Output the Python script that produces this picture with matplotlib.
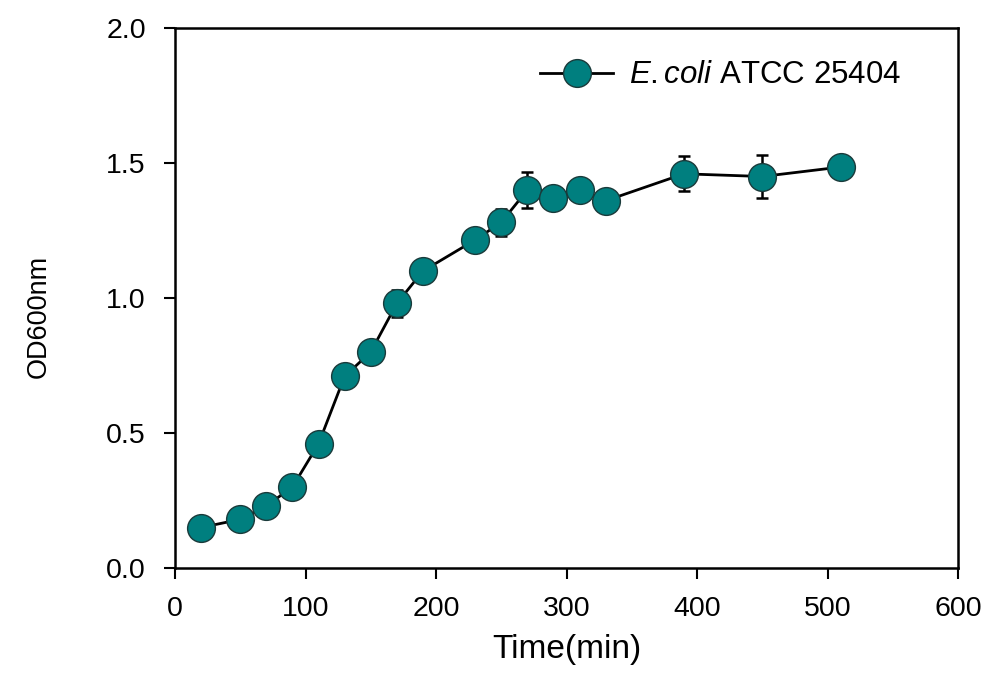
import matplotlib.pyplot as plt

time_min = [20, 50, 70, 90, 110, 130, 150, 170, 190, 230, 250, 270, 290, 310, 330, 390, 450, 510]
od600 = [0.15, 0.18, 0.23, 0.30, 0.46, 0.71, 0.80, 0.98, 1.10, 1.215, 1.28, 1.40, 1.37, 1.40, 1.36, 1.46, 1.45, 1.485]
od_err = [0.01, 0.01, 0.01, 0.01, 0.02, 0.04, 0.02, 0.05, 0.02, 0.02, 0.05, 0.065, 0.02, 0.02, 0.02, 0.065, 0.08, 0.01]
x_ticks = [0, 100, 200, 300, 400, 500, 600]
y_ticks = [0.0, 0.5, 1.0, 1.5, 2.0]

plt.rcParams['font.family'] = ['Liberation Sans', 'DejaVu Sans']
plt.rcParams['mathtext.fontset'] = 'custom'
plt.rcParams['mathtext.it'] = 'Liberation Sans:italic'
plt.rcParams['mathtext.rm'] = 'Liberation Sans'

fig = plt.figure(figsize=(9.86, 6.77), dpi=100)
ax = fig.add_axes([175 / 986, 1 - 568 / 677, (958 - 175) / 986, (568 - 28) / 677])

# error bars only, then line + markers on top
ax.errorbar(time_min, od600, yerr=od_err, fmt='none', ecolor='black', capsize=4.5,
            capthick=1.8, elinewidth=1.8, zorder=2)
ax.plot(time_min, od600, color='black', lw=2.0, marker='o', markersize=20,
        markerfacecolor='#007f7f', markeredgecolor='#1a3a3a', markeredgewidth=1.0,
        label=r'$\it{E.coli}$ ATCC 25404', zorder=3)

ax.set_xlim(0, 600)
ax.set_ylim(0, 2.0)
ax.set_xticks(x_ticks)
ax.set_yticks(y_ticks)
ax.set_yticklabels(['%.1f' % v for v in y_ticks], fontsize=20.5)
ax.set_xticklabels([str(v) for v in x_ticks], fontsize=20.5)
ax.tick_params(axis='y', direction='out', length=8, width=1.5, pad=13)
ax.tick_params(axis='x', direction='out', length=8, width=1.5, pad=12)
for s in ax.spines.values():
    s.set_linewidth(1.8)

ax.set_xlabel('Time(min)', fontsize=24, labelpad=9)
ax.set_ylabel('OD600nm', fontsize=19.5)
ax.yaxis.set_label_coords(-0.158, 0.465)

ax.legend(loc='upper left', bbox_to_anchor=(0.45, 0.963), frameon=False, fontsize=22.5,
          handlelength=2.35, handletextpad=0.5, borderaxespad=0)

fig.savefig('out.png', dpi=100)
